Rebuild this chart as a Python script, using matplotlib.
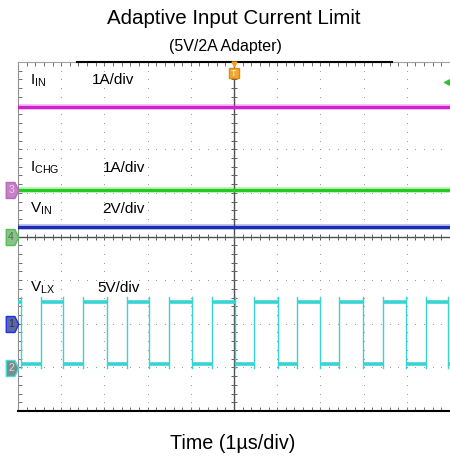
"""plot.py
Scope capture: adaptive input current limit, 5V/2A adapter.
"""
import matplotlib
matplotlib.use("Agg")
import matplotlib.pyplot as plt
from matplotlib.path import Path
import numpy as np

plt.rcParams['font.family'] = ['Liberation Sans', 'DejaVu Sans']
plt.rcParams['mathtext.fontset'] = 'custom'
plt.rcParams['mathtext.rm'] = 'Liberation Sans'
plt.rcParams['mathtext.it'] = 'Liberation Sans'

# screen is 10 x 8 divisions, centre at (0, 0)
x_divs = 10
y_divs = 8

# trace levels in divisions
iin_level = 2.96
ichg_level = 1.06
vin_level = 0.22
vlx_high = -1.49
vlx_low = -2.93

# switch node edges (div), 1us period
vlx_fall = [-4.94, -3.95, -2.95, -1.96, -0.97, 0.02, 1.01, 1.99, 2.98, 3.98, 4.95]
vlx_rise = [-4.47, -3.49, -2.48, -1.50, -0.52, 0.46, 1.45, 2.44, 3.44, 4.44]

# channel labels: (name, scale, y)
labels = [(r'$\mathrm{I_{IN}}$', '1A/div', 3.58),
          (r'$\mathrm{I_{CHG}}$', '1A/div', 1.58),
          (r'$\mathrm{V_{IN}}$', '2V/div', 0.63),
          (r'$\mathrm{V_{LX}}$', '5V/div', -1.18)]
x_scale = [-3.29, -3.03, -3.06, -3.17]

# left channel markers: (number, y, face, edge, text colour)
markers = [('3', 1.07, '#c880c8', '#b868b8', '#e8d0e8'),
           ('4', 0.0, '#8cc08c', '#50c050', '#507050'),
           ('1', -2.0, '#5868a8', '#2030e8', '#303040'),
           ('2', -3.02, '#788e8c', '#48dcdc', '#d0e0e0')]

W, H = 450, 465
fig = plt.figure(figsize=(W / 100, H / 100), dpi=100)
ax = fig.add_axes([18 / W, (H - 411) / H, 432 / W, 349 / H])
ax.set_xlim(-x_divs / 2, x_divs / 2)
ax.set_ylim(-y_divs / 2, y_divs / 2)

# dotted grid
for k in range(-4, 5):
    ys = np.arange(-4, 4.01, 0.2)
    ax.scatter(np.full(len(ys), k), ys, s=0.6, c='#909090', lw=0, zorder=1)
for j in range(-3, 4):
    xs = np.arange(-5, 5.01, 0.2)
    ax.scatter(xs, np.full(len(xs), j), s=0.6, c='#909090', lw=0, zorder=1)

# centre cross with minor ticks
ax.axhline(0, color='#505050', lw=1, zorder=2)
ax.axvline(0, color='#505050', lw=1, zorder=2)
xt = np.arange(-5, 5.01, 0.2)
yt = np.arange(-4, 4.01, 0.2)
ax.plot(xt, np.zeros(len(xt)), ls='none', marker='|', ms=5, mew=0.7, color='#606060', zorder=2)
ax.plot(np.zeros(len(yt)), yt, ls='none', marker='_', ms=5, mew=0.7, color='#606060', zorder=2)

# border
ax.set_xticks(np.arange(-5, 5.01, 1))
ax.set_yticks(np.arange(-4, 4.01, 1))
ax.set_xticks(xt, minor=True)
ax.set_yticks(yt, minor=True)
ax.tick_params(which='both', direction='in', length=3, width=0.7, color='#707070',
               top=True, right=False, labelbottom=False, labelleft=False)
ax.spines['right'].set_visible(False)
ax.spines['left'].set_color('#909090')
ax.spines['top'].set_color('#a0a0a0')
ax.spines['bottom'].set_color('black')
ax.spines['bottom'].set_linewidth(1.5)
ax.plot([-3.63, 3.66], [4, 4], color='black', lw=1.5, clip_on=False, zorder=3)

# flat traces
for lvl, col in [(iin_level, '#d020d0'), (ichg_level, '#20cc20'), (vin_level, '#1a2cb8')]:
    ax.plot([-5, 5], [lvl, lvl], color=col, lw=4, alpha=0.35, zorder=4)
    ax.plot([-5, 5], [lvl, lvl], color=col, lw=2.2, zorder=5)

# switch node square wave
cyan = '#38d4d4'
edges = sorted([(t, 'f') for t in vlx_fall] + [(t, 'r') for t in vlx_rise])
start, state = -5.0, 'h'
for t, kind in edges:
    lvl = vlx_high if state == 'h' else vlx_low
    ax.plot([start, t], [lvl, lvl], color=cyan, lw=2.6, zorder=5, solid_capstyle='butt')
    ax.plot([t, t], [vlx_high + 0.1, vlx_low - 0.08], color=cyan, lw=1, zorder=5)
    state = 'l' if kind == 'f' else 'h'
    start = t
lvl = vlx_high if state == 'h' else vlx_low
ax.plot([start, 5], [lvl, lvl], color=cyan, lw=2.6, zorder=5, solid_capstyle='butt')

# channel text
for (name, scale, y), xs in zip(labels, x_scale):
    ax.text(-4.72, y, name, fontsize=11, va='center', ha='left', zorder=6)
    ax.text(xs, y, scale, fontsize=11, va='center', ha='left', zorder=6)

# channel markers off the left edge (pentagon tags)
tag = Path([(-0.39, -0.5), (0.15, -0.5), (0.39, 0), (0.15, 0.5), (-0.39, 0.5), (-0.39, -0.5)],
           [Path.MOVETO] + [Path.LINETO] * 4 + [Path.CLOSEPOLY])
for num, y, fc, ec, tc in markers:
    ax.plot([-5.13], [y], marker=tag, ms=11.5, mfc=fc, mec=ec, mew=1, ls='none',
            clip_on=False, zorder=7)
    ax.text(-5.16, y, num, fontsize=7.5, color=tc, va='center', ha='center',
            clip_on=False, zorder=8)

# trigger marker and level arrow
ax.plot([0], [3.96], marker='v', ms=3.5, color='#f0a020', clip_on=False, zorder=7)
ax.plot([0], [3.74], marker='s', ms=7, mfc='#f4a830', mec='#e08810', ls='none', zorder=7)
ax.text(0, 3.74, 'T', fontsize=6.5, color='#fff4e0', ha='center', va='center', zorder=8)
ax.plot([4.92], [3.54], marker='<', ms=5, color='#30c030', clip_on=False, zorder=7)

fig.text(234 / W, 1 - 19 / H, 'Adaptive Input Current Limit', fontsize=14.8,
         ha='center', va='center')
fig.text(225 / W, 1 - 46 / H, '(5V/2A Adapter)', fontsize=11.5,
         ha='center', va='center')
fig.text(233 / W, 1 - 443 / H, 'Time (1\u00b5s/div)', fontsize=14.2,
         ha='center', va='center')

fig.savefig('out.png', dpi=100)
